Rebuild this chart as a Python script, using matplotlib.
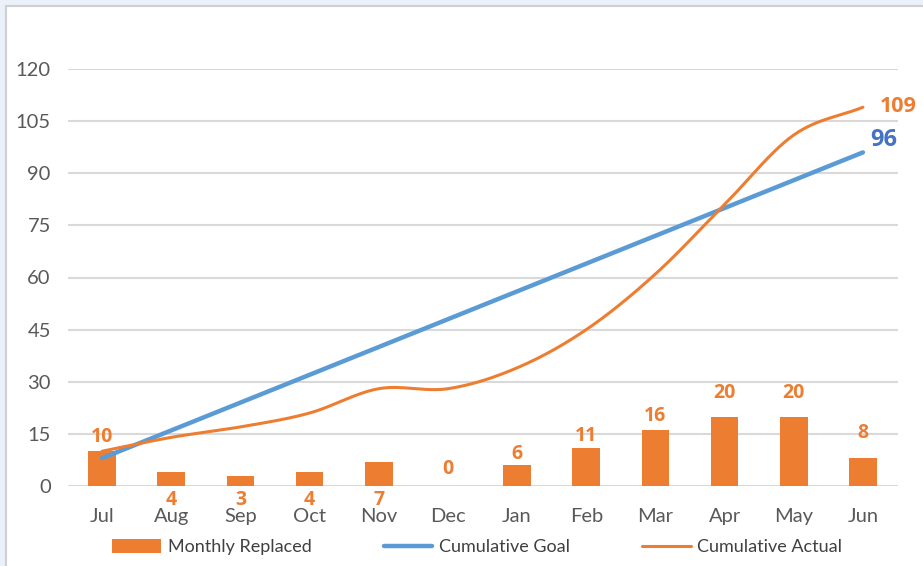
import numpy as np
import matplotlib.pyplot as plt
from matplotlib.patches import Rectangle

# Monthly replacement data, fiscal year Jul-Jun
months = ['Jul', 'Aug', 'Sep', 'Oct', 'Nov', 'Dec', 'Jan', 'Feb', 'Mar', 'Apr', 'May', 'Jun']
monthly_replaced = [10, 4, 3, 4, 7, 0, 6, 11, 16, 20, 20, 8]
cumulative_goal = [8, 16, 24, 32, 40, 48, 56, 64, 72, 80, 88, 96]
cumulative_actual = [10, 14, 17, 21, 28, 28, 34, 45, 61, 81, 101, 109]

ORANGE = '#ED7D31'
BLUE = '#5B9BD5'
DARK_BLUE = '#4472C4'
GRID = '#D9D9D9'
TEXT = '#595959'

plt.rcParams['font.family'] = ['Lato', 'DejaVu Sans']
BOLD_FONT = ['Open Sans', 'DejaVu Sans']


def smooth(x, y, n=30):
    # Catmull-Rom spline through the points, like a spreadsheet "smoothed line"
    x = np.asarray(x, float)
    y = np.asarray(y, float)
    px = np.concatenate([[2 * x[0] - x[1]], x, [2 * x[-1] - x[-2]]])
    py = np.concatenate([[2 * y[0] - y[1]], y, [2 * y[-1] - y[-2]]])
    xs, ys = [], []
    t = np.linspace(0, 1, n, endpoint=False)
    for i in range(1, len(px) - 2):
        for p, out in ((px, xs), (py, ys)):
            p0, p1, p2, p3 = p[i - 1], p[i], p[i + 1], p[i + 2]
            out.extend(0.5 * (2 * p1 + (-p0 + p2) * t
                              + (2 * p0 - 5 * p1 + 4 * p2 - p3) * t ** 2
                              + (-p0 + 3 * p1 - 3 * p2 + p3) * t ** 3))
    xs.append(x[-1])
    ys.append(y[-1])
    return np.array(xs), np.array(ys)


fig = plt.figure(figsize=(9.23, 5.66), dpi=100)
fig.patch.set_facecolor('#EAF1F9')
# white chart panel with a thin grey border
fig.patches.append(Rectangle((6 / 923, -0.05), 1.1, (566 - 6) / 566 + 0.05,
                             transform=fig.transFigure, facecolor='white',
                             edgecolor='#D0D0D0', linewidth=1.5, zorder=-5))

ax = fig.add_axes([67.5 / 923, 80 / 566, 830 / 923, 417 / 566])
ax.set_facecolor('none')

x = np.arange(len(months))
bars = ax.bar(x, monthly_replaced, width=0.4, color=ORANGE, zorder=2)
goal_line, = ax.plot(x, cumulative_goal, color=BLUE, linewidth=3.2,
                     solid_capstyle='round', zorder=3)
sx, sy = smooth(x, cumulative_actual)
actual_line, = ax.plot(sx, sy, color=ORANGE, linewidth=2.2,
                       solid_capstyle='round', zorder=4)

# bar value labels (pixel offsets from the bar top); small bars get their
# label pushed below the axis
label_offsets = [14, -28, -24, -28, -38, 17, 11, 12, 14, 24, 24, 25]
for xi, v, off in zip(x, monthly_replaced, label_offsets):
    ax.annotate(str(v), (xi, v), xytext=(0, off), textcoords='offset pixels',
                ha='center', va='center', family=BOLD_FONT,
                color=ORANGE, fontsize=14, fontweight='bold', zorder=5)

# end-of-line labels
ax.annotate(str(cumulative_actual[-1]), (x[-1], cumulative_actual[-1]), xytext=(17, 1),
            textcoords='offset pixels', ha='left', va='center', family=BOLD_FONT,
            color=ORANGE, fontsize=15.5, fontweight='bold')
ax.annotate(str(cumulative_goal[-1]), (x[-1], cumulative_goal[-1]), xytext=(7, 12),
            textcoords='offset pixels', ha='left', va='center', family=BOLD_FONT,
            color=DARK_BLUE, fontsize=17, fontweight='bold')

ax.set_xlim(-0.5, len(months) - 0.5)
ax.set_ylim(0, 120)
ax.set_yticks(range(0, 121, 15))
ax.set_xticks(x)
ax.set_xticklabels(months)
ax.tick_params(axis='both', length=0, labelsize=14.5, labelcolor=TEXT)
ax.tick_params(axis='x', pad=15.5)
ax.tick_params(axis='y', pad=12)
ax.grid(axis='y', color=GRID, linewidth=1.5, zorder=0)
ax.set_axisbelow(True)
for s in ax.spines.values():
    s.set_visible(False)

fig.legend([bars, goal_line, actual_line],
           ['Monthly Replaced', 'Cumulative Goal', 'Cumulative Actual'],
           loc='lower center', bbox_to_anchor=(0.517, -0.01), ncol=3, frameon=False,
           fontsize=13, handlelength=2.7, handleheight=0.8, columnspacing=4.0,
           handletextpad=0.35, labelcolor='#404040')

fig.savefig('out.png', dpi=100, facecolor=fig.get_facecolor())
